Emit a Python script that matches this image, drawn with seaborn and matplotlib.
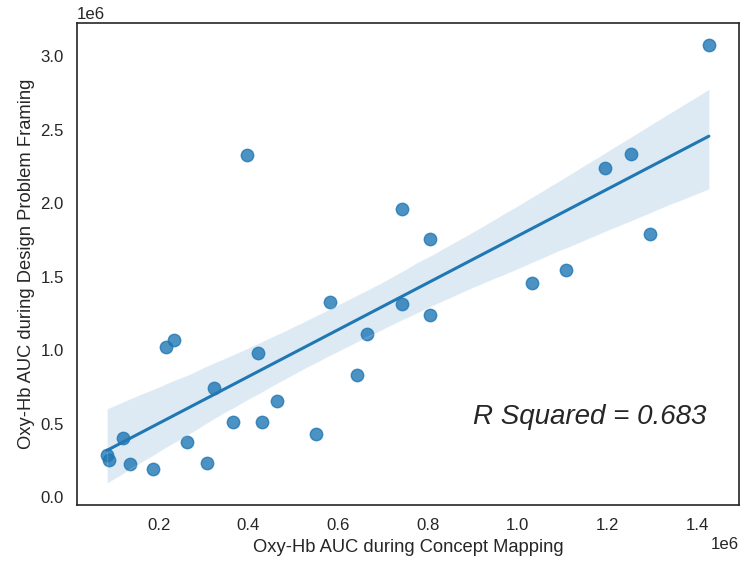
import numpy as np
import pandas as pd
import matplotlib
matplotlib.use("Agg")
import matplotlib.pyplot as plt
import seaborn as sns

# Oxy-Hb AUC values (units of 1e6)
concept_mapping = [0.085, 0.0885, 0.1206, 0.1353, 0.1865, 0.2164, 0.2349, 0.2632,
                   0.3078, 0.3234, 0.3648, 0.397, 0.4221, 0.4304, 0.4629, 0.5507,
                   0.5826, 0.642, 0.665, 0.7424, 0.7424, 0.8039, 0.8039, 1.0334,
                   1.1085, 1.1948, 1.254, 1.2958, 1.4266]
problem_framing = [0.287, 0.251, 0.405, 0.223, 0.189, 1.018, 1.070, 0.376,
                   0.230, 0.742, 0.510, 2.327, 0.982, 0.510, 0.654, 0.428,
                   1.330, 0.831, 1.109, 1.962, 1.314, 1.757, 1.241, 1.453,
                   1.544, 2.238, 2.336, 1.792, 3.076]
r_squared_label = "R Squared = 0.683"

df = pd.DataFrame({
    "x": np.array(concept_mapping) * 1e6,
    "y": np.array(problem_framing) * 1e6,
})

sns.set_theme(style="white", context="notebook", palette="tab10", font_scale=1.1)
plt.rcParams['font.family'] = ['Liberation Sans', 'DejaVu Sans']

fig = plt.figure(figsize=(7.4, 5.61), dpi=100)
ax = fig.add_axes([0.104, 0.0998, 0.8946, 0.8592])
sns.regplot(data=df, x="x", y="y", ax=ax, seed=3, n_boot=2000,
            scatter_kws={"s": 80}, line_kws={"lw": 2.2})
ax.set_xlabel("Oxy-Hb AUC during Concept Mapping")
ax.set_ylabel("Oxy-Hb AUC during Design Problem Framing")
ax.text(0.9e6, 0.5e6, r_squared_label, fontsize=20, style="italic", color="#262626")
for s in ax.spines.values():
    s.set_color("#262626")
    s.set_linewidth(1.2)

fig.savefig("out.png", dpi=100)
